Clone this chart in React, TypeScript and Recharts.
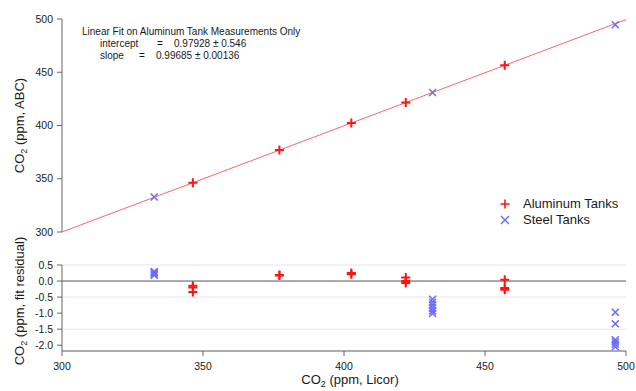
import { ScatterChart, Scatter, XAxis, YAxis, CartesianGrid, ReferenceLine, Legend } from "recharts";

const FONT = "'Liberation Sans', Arial, sans-serif";
const RED = "#ff1414";
const BLUE = "#6b6bff";
const FIT = "#ff6666";
const AXIS = "#666";
const TXT = "#1a1a1a";

// shared x axis (CO2 ppm, Licor)
const xTicks = [300, 350, 400, 450, 500];
const topTicks = [300, 350, 400, 450, 500];
const resTicks = [-2.0, -1.5, -1.0, -0.5, 0.0, 0.5];

// linear fit on aluminium tanks
const fitIntercept = 0.97928;
const fitSlope = 0.99685;
const fitX = [300, 500];

// top panel: ABC vs Licor
const alX = [346.4, 377.1, 402.6, 421.9, 457.0];
const alY = [346.3, 376.9, 402.3, 421.5, 456.5];
const stX = [332.7, 431.4, 496.2];
const stY = [332.8, 430.9, 494.6];

// bottom panel: fit residuals
const alResX = [346.4, 346.4, 346.4, 377.1, 377.1, 402.6, 402.6, 421.9, 421.9, 421.9, 457.0, 457.0, 457.0];
const alResY = [-0.15, -0.2, -0.34, 0.17, 0.19, 0.21, 0.25, 0.11, 0.0, -0.06, 0.04, -0.22, -0.27];
const stResX = [
  332.7, 332.7, 332.7, 332.7,
  431.4, 431.4, 431.4, 431.4, 431.4, 431.4,
  496.2, 496.2, 496.2, 496.2, 496.2, 496.2,
];
const stResY = [
  0.18, 0.22, 0.26, 0.3,
  -0.57, -0.66, -0.75, -0.84, -0.93, -1.01,
  -0.97, -1.33, -1.83, -1.9, -1.97, -2.05,
];

const zip = (xs: number[], ys: number[]) => xs.map((x, i) => ({ x, y: ys[i] }));
const fitData = fitX.map((x) => ({ x, y: fitIntercept + fitSlope * x }));

function Plus(props: any) {
  const { cx, cy } = props;
  const r = 4.5;
  return <path d={`M${cx - r},${cy}H${cx + r}M${cx},${cy - r}V${cy + r}`} stroke={RED} strokeWidth={2} fill="none" />;
}

function Cross(props: any) {
  const { cx, cy } = props;
  const r = 3.5;
  return (
    <path
      d={`M${cx - r},${cy - r}L${cx + r},${cy + r}M${cx - r},${cy + r}L${cx + r},${cy - r}`}
      stroke={BLUE}
      strokeWidth={1.5}
      fill="none"
    />
  );
}

const noDot = () => <g />;

function vTitle(post: string, shift: number) {
  return (p: any) => {
    const vb = p.viewBox;
    const x = 24;
    const y = vb.y + vb.height / 2 + shift;
    return (
      <text x={x} y={y} transform={`rotate(-90, ${x}, ${y})`} textAnchor="middle" fontSize={13} fill={TXT} fontFamily={FONT}>
        CO<tspan dy={3} fontSize={9}>2</tspan>
        <tspan dy={-3}>{post}</tspan>
      </text>
    );
  };
}

function xTitle(p: any) {
  const vb = p.viewBox;
  const x = vb.x + vb.width / 2 + 6;
  const y = vb.y + 33;
  return (
    <text x={x} y={y} textAnchor="middle" fontSize={13} fill={TXT} fontFamily={FONT}>
      CO<tspan dy={3} fontSize={9}>2</tspan>
      <tspan dy={-3}> (ppm, Licor)</tspan>
    </text>
  );
}

function LegendBox() {
  const rows = [
    { label: "Aluminum Tanks", icon: <path d="M2.5,7H11.5M7,2.5V11.5" stroke={RED} strokeWidth={1.6} /> },
    { label: "Steel Tanks", icon: <path d="M3,3L11,11M3,11L11,3" stroke={BLUE} strokeWidth={1.4} /> },
  ];
  return (
    <div style={{ fontFamily: FONT, fontSize: 13, color: TXT }}>
      {rows.map((r) => (
        <div key={r.label} style={{ display: "flex", alignItems: "center", height: 16.5, lineHeight: "16px" }}>
          <svg width={14} height={14} style={{ display: "block" }}>{r.icon}</svg>
          <span style={{ marginLeft: 11 }}>{r.label}</span>
        </div>
      ))}
    </div>
  );
}

const tickStyle = { fontSize: 10.5, fill: TXT, fontFamily: FONT };

export default function App() {
  return (
    <div style={{ position: "absolute", left: 0, top: 0, width: 636, height: 391, background: "#fff", fontFamily: FONT }}>
      <div style={{ position: "absolute", left: 0, top: 0 }}>
        <ScatterChart width={636} height={240} margin={{ top: 19, right: 10, bottom: 8, left: 0 }}>
          <XAxis type="number" dataKey="x" domain={[300, 500]} ticks={xTicks} hide />
          <YAxis
            type="number"
            dataKey="y"
            domain={[300, 500]}
            ticks={topTicks}
            width={62}
            stroke={AXIS}
            tickSize={5}
            tickMargin={4}
            tick={tickStyle}
            label={vTitle(" (ppm, ABC)", 0)}
          />
          <Scatter data={fitData} line={{ stroke: FIT, strokeWidth: 1 }} lineType="joint" shape={noDot} isAnimationActive={false} legendType="none" />
          <Scatter name="Aluminum Tanks" data={zip(alX, alY)} shape={Plus} isAnimationActive={false} />
          <Scatter name="Steel Tanks" data={zip(stX, stY)} shape={Cross} isAnimationActive={false} />
          <Legend
            layout="vertical"
            align="center"
            verticalAlign="middle"
            content={() => <LegendBox />}
            wrapperStyle={{ left: 498, top: 195.5, width: 130 }}
          />
          <text x={82} y={35} fontSize={10} fill={TXT} fontFamily={FONT}>
            Linear Fit on Aluminum Tank Measurements Only
          </text>
          <text y={47} fontSize={10} fill={TXT} fontFamily={FONT}>
            <tspan x={100}>intercept</tspan>
            <tspan x={157}>=</tspan>
            <tspan x={174}>{`${fitIntercept} ± 0.546`}</tspan>
          </text>
          <text y={59} fontSize={10} fill={TXT} fontFamily={FONT}>
            <tspan x={100}>slope</tspan>
            <tspan x={139}>=</tspan>
            <tspan x={156}>{`${fitSlope} ± 0.00136`}</tspan>
          </text>
        </ScatterChart>
      </div>
      <div style={{ position: "absolute", left: 0, top: 220 }}>
        <ScatterChart width={636} height={171} margin={{ top: 45, right: 10, bottom: 0, left: 0 }}>
          <CartesianGrid horizontal vertical={false} stroke="#e3e3f6" />
          <XAxis
            type="number"
            dataKey="x"
            domain={[300, 500]}
            ticks={xTicks}
            height={40}
            stroke={AXIS}
            tickSize={5}
            tickMargin={7}
            tick={tickStyle}
            label={xTitle}
          />
          <YAxis
            type="number"
            dataKey="y"
            domain={[-2.18, 0.5]}
            ticks={resTicks}
            width={62}
            stroke={AXIS}
            tickSize={5}
            tickMargin={4}
            tick={tickStyle}
            tickFormatter={(v: number) => v.toFixed(1)}
            label={vTitle(" (ppm, fit residual)", -7)}
          />
          <ReferenceLine y={0} stroke="#555" strokeWidth={1} />
          <Scatter data={zip(alResX, alResY)} shape={Plus} isAnimationActive={false} />
          <Scatter data={zip(stResX, stResY)} shape={Cross} isAnimationActive={false} />
        </ScatterChart>
      </div>
    </div>
  );
}
